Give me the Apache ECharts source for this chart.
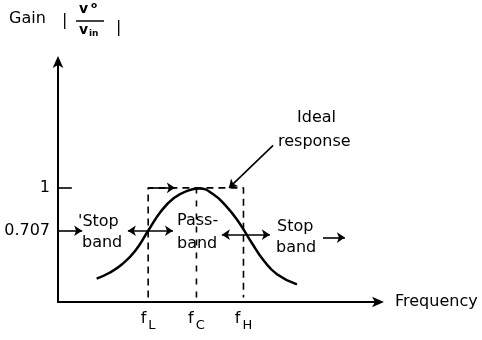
<!DOCTYPE html>
<html lang="en">
<head>
    <meta charset="UTF-8">
    <script type="text/javascript" src="https://cdn.jsdelivr.net/npm/echarts@6/dist/echarts.min.js"></script>
    <title>Band-pass response</title>
    <style>
        html, body { margin: 0; padding: 0; background: #fff; }
        #chart { width: 482px; height: 340px; }
    </style>
</head>
<body>
<div id="chart"></div>

<script>
    // curve (frequency in arbitrary units, gain ratio)
    var freq = [1.2, 1.6, 2.0, 2.4, 2.8, 3.2, 3.6, 4.0, 4.4, 4.8, 5.2, 5.6, 6.0, 6.4, 6.8, 7.42];
    var gain = [0.38, 0.42, 0.48, 0.57, 0.707, 0.84, 0.93, 0.978, 0.995, 0.96, 0.88, 0.77, 0.63, 0.50, 0.41, 0.34];

    // cut-off / centre frequencies and their labels
    var cutFreq = [2.8, 4.3, 5.76];
    var cutNames = ['L', 'C', 'H'];

    // gain tick labels
    var gainTicks = [0.707, 1];

    var xMin = 0, xMax = 10;
    var yMin = 0.22, yMax = 1.86;

    // annotation arrows: x1, y1, x2, y2, start symbol, end symbol
    var arrows = [
        [2.17, 0.707, 3.57, 0.707, 'arrow', 'arrow'],
        [5.09, 0.68, 6.58, 0.68, 'arrow', 'arrow'],
        [8.23, 0.66, 8.91, 0.66, 'none', 'arrow'],
        [6.68, 1.29, 5.31, 1.0, 'none', 'arrow'],
        [0, 0.707, 0.75, 0.707, 'none', 'arrow'],
        [0, 1, 0.43, 1, 'none', 'none'],
        [2.8, 1, 3.63, 1, 'none', 'arrow']
    ];

    var curveData = freq.map(function (f, i) { return [f, gain[i]]; });
    var idealData = [[cutFreq[0], yMin + 0.03], [cutFreq[0], 1], [cutFreq[2], 1], [cutFreq[2], yMin + 0.03]];
    var centreData = [[cutFreq[1], yMin + 0.03], [cutFreq[1], 1]];

    var arrowData = arrows.map(function (a) {
        return [
            {coord: [a[0], a[1]], symbol: a[4]},
            {coord: [a[2], a[3]], symbol: a[5]}
        ];
    });

    var font = '"DejaVu Sans", sans-serif';

    var mChart = echarts.init(document.getElementById('chart'), null, {renderer: 'canvas'});

    var option = {
        animation: false,
        backgroundColor: '#fff',
        grid: {left: 58, right: 102, top: 62, bottom: 38},
        xAxis: {
            type: 'value',
            min: xMin,
            max: xMax,
            name: 'Frequency',
            nameLocation: 'end',
            nameGap: 15,
            nameTextStyle: {color: '#000', fontSize: 16, fontFamily: font, verticalAlign: 'middle', padding: [6, 0, 0, 0]},
            splitLine: {show: false},
            axisTick: {show: false},
            axisLine: {
                onZero: false,
                symbol: ['none', 'arrow'],
                symbolSize: [8, 12],
                symbolOffset: [0, 4],
                lineStyle: {color: '#000', width: 2}
            },
            axisLabel: {
                customValues: cutFreq,
                margin: 9,
                color: '#000',
                formatter: function (v) {
                    var i = cutFreq.indexOf(v);
                    return '{f|f}{s|' + (i >= 0 ? cutNames[i] : '') + '}';
                },
                rich: {
                    f: {fontSize: 16, fontFamily: font, color: '#000', verticalAlign: 'top'},
                    s: {fontSize: 13, fontFamily: font, color: '#000', verticalAlign: 'bottom', padding: [8, 0, 0, 2]}
                }
            }
        },
        yAxis: {
            type: 'value',
            min: yMin,
            max: yMax,
            splitLine: {show: false},
            axisTick: {show: false},
            axisLine: {
                onZero: false,
                symbol: ['none', 'arrow'],
                symbolSize: [8, 12],
                symbolOffset: [0, 6],
                lineStyle: {color: '#000', width: 2}
            },
            axisLabel: {
                customValues: gainTicks,
                margin: 8,
                color: '#000',
                fontSize: 16,
                fontFamily: font,
                formatter: function (v) { return String(v); }
            }
        },
        series: [
            {
                type: 'line',
                data: curveData,
                smooth: true,
                symbol: 'none',
                lineStyle: {color: '#000', width: 2.5},
                markLine: {
                    silent: true,
                    symbolSize: 8,
                    label: {show: false},
                    lineStyle: {color: '#000', type: 'solid', width: 1.6},
                    data: arrowData
                }
            },
            {
                type: 'line',
                data: idealData,
                symbol: 'none',
                lineStyle: {color: '#000', width: 1.6, type: [7, 5]}
            },
            {
                type: 'line',
                data: centreData,
                symbol: 'none',
                lineStyle: {color: '#000', width: 1.6, type: [6, 7]}
            }
        ],
        graphic: [
            // y axis title: Gain |vo / vin|
            {type: 'text', x: 9, y: 19, style: {text: 'Gain', font: '16px ' + font, fill: '#000', verticalAlign: 'middle'}},
            {type: 'text', x: 62, y: 21, style: {text: '|', font: '16px ' + font, fill: '#000', verticalAlign: 'middle'}},
            {type: 'text', x: 79, y: 9, style: {text: 'v', font: 'bold 14px ' + font, fill: '#000', verticalAlign: 'middle'}},
            {type: 'text', x: 91, y: 6, style: {text: 'o', font: 'bold 9px ' + font, fill: '#000', verticalAlign: 'middle'}},
            {type: 'line', shape: {x1: 76, y1: 21, x2: 104, y2: 21}, style: {stroke: '#000', lineWidth: 1.5}},
            {type: 'text', x: 79, y: 30, style: {text: 'v', font: 'bold 14px ' + font, fill: '#000', verticalAlign: 'middle'}},
            {type: 'text', x: 89, y: 34, style: {text: 'in', font: 'bold 9px ' + font, fill: '#000', verticalAlign: 'middle'}},
            {type: 'text', x: 116, y: 28, style: {text: '|', font: '16px ' + font, fill: '#000', verticalAlign: 'middle'}},

            // band annotations
            {type: 'text', x: 78, y: 222, style: {text: '\'Stop', font: '16px ' + font, fill: '#000', verticalAlign: 'middle'}},
            {type: 'text', x: 82, y: 243, style: {text: 'band', font: '16px ' + font, fill: '#000', verticalAlign: 'middle'}},
            {type: 'text', x: 177, y: 221, style: {text: 'Pass-', font: '16px ' + font, fill: '#000', verticalAlign: 'middle'}},
            {type: 'text', x: 177, y: 244, style: {text: 'band', font: '16px ' + font, fill: '#000', verticalAlign: 'middle'}},
            {type: 'text', x: 277, y: 227, style: {text: 'Stop', font: '16px ' + font, fill: '#000', verticalAlign: 'middle'}},
            {type: 'text', x: 276, y: 248, style: {text: 'band', font: '16px ' + font, fill: '#000', verticalAlign: 'middle'}},
            {type: 'text', x: 297, y: 118, style: {text: 'Ideal', font: '16px ' + font, fill: '#000', verticalAlign: 'middle'}},
            {type: 'text', x: 278, y: 142, style: {text: 'response', font: '16px ' + font, fill: '#000', verticalAlign: 'middle'}}
        ]
    };

    mChart.setOption(option);
</script>
</body>
</html>
